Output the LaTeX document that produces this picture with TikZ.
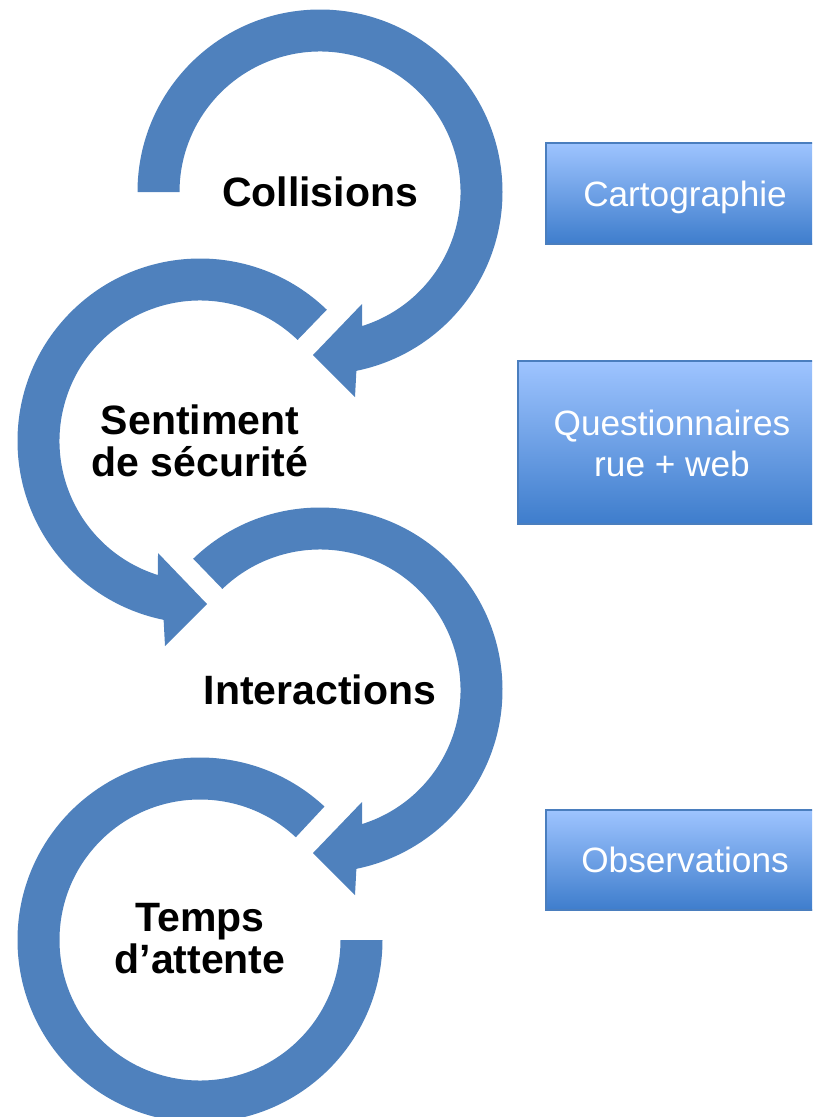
\documentclass[tikz,border=0pt]{standalone}
\usepackage{fontspec}
\setmainfont{Liberation Sans}
\definecolor{arcblue}{RGB}{79,129,189}
\definecolor{boxtop}{RGB}{158,196,255}
\definecolor{boxbot}{RGB}{62,125,204}
\definecolor{boxline}{RGB}{74,126,190}
\tikzset{
  stagetext/.style={font={\bfseries\fontsize{41}{42}\selectfont}, align=center, text=black, inner sep=0pt},
  methodbox/.style={draw=boxline, line width=1.5pt, top color=boxtop, bottom color=boxbot},
  methodtext/.style={font={\fontsize{35.2}{41}\selectfont}, align=center, text=white, inner sep=0pt},
  pics/cyclearrow/.style={code={
    \fill[arcblue] (#1:182.5) arc[start angle=#1, end angle=438.5, radius=182.5]
      -- (35,205) -- (-7,163) -- (42,112) -- (432.6:140.5)
      arc[start angle=432.6, end angle=#1, radius=140.5] -- cycle;
  }}
}
\begin{document}
\begin{tikzpicture}[x=1pt, y=-1pt]
  \useasboundingbox (0,0) rectangle (812,1117);
  \clip (0,0) rectangle (812,1117);
  % circular arrows
  \pic at (320,192) {cyclearrow=180};
  \pic[xscale=-1] at (200,441) {cyclearrow=226};
  \pic at (320,690) {cyclearrow=226};
  \begin{scope}[shift={(200,940)}]
    \fill[arcblue] (0:182.5) arc[start angle=0, end angle=313, radius=182.5]
      -- (313:140.5) arc[start angle=313, end angle=0, radius=140.5] -- cycle;
  \end{scope}
  % stage labels
  \node[stagetext] (collisions) at (320,192) {Collisions};
  \node[stagetext] (securite) at (200,441) {Sentiment\\de sécurité};
  \node[stagetext] (interactions) at (320,690) {Interactions};
  \node[stagetext] (attente) at (200,939) {Temps\\d’attente};
  % method boxes
  \path[methodbox] (546,143) rectangle (826,244);
  \path[methodbox] (518,361) rectangle (828,524);
  \path[methodbox] (546,810) rectangle (826,910);
  \node[methodtext, anchor=base] (carto) at (685,206) {Cartographie};
  \node[methodtext] (quest) at (672,443) {Questionnaires\\rue + web};
  \node[methodtext, anchor=base] (obs) at (685,872) {Observations};
\end{tikzpicture}
\end{document}
